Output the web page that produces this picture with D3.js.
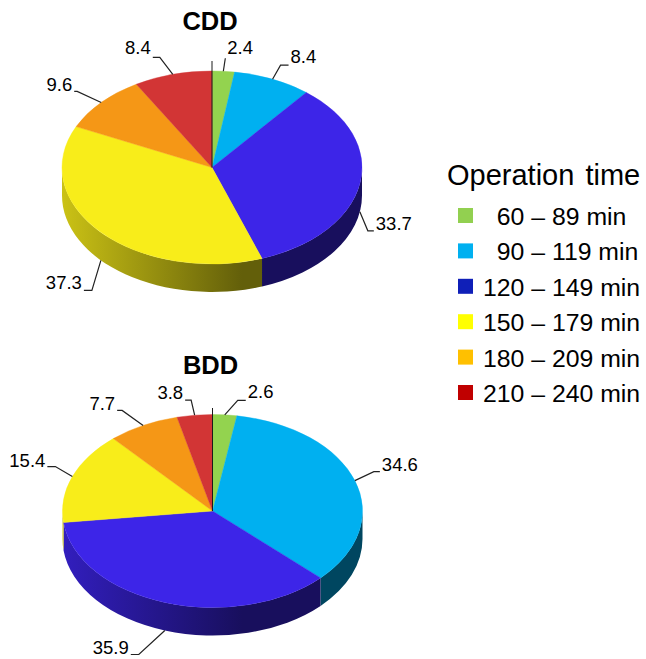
<!DOCTYPE html>
<html>
<head>
<meta charset="utf-8">
<script src="https://cdnjs.cloudflare.com/ajax/libs/d3/7.8.5/d3.min.js"></script>
<style>
  html, body { margin: 0; padding: 0; background: #fff; }
  svg { display: block; font-family: "Liberation Sans", Arial, sans-serif; fill: #000; }
  .legend-label { white-space: pre; }
</style>
</head>
<body>
<svg id="chart" width="646" height="659"></svg>
<script>
// Share of cases (%) per operation-time band, clockwise from twelve o'clock
const bands = ["60 – 89 min", "90 – 119 min", "120 – 149 min", "150 – 179 min", "180 – 209 min", "210 – 240 min"];
const cddValues = [2.4, 8.4, 33.7, 37.3, 9.6, 8.4];
const bddValues = [2.6, 34.6, 35.9, 15.4, 7.7, 3.8];

const sliceColors = ["#93d34f", "#00b0f0", "#3d25e8", "#f8ed1a", "#f59716", "#d23535"];
const legendColors = ["#92d050", "#00b0f0", "#0f1fb8", "#ffff00", "#ffc000", "#c00000"];
const legendPad = ["  ", "  ", "", "", "", ""];

// Leader lines: [elbow dx, elbow dy, horizontal run, text baseline shift] from the slice edge
const cddLeaders = [[2, -13, 0, -4], [8, -14, 8, -2], [8, 19, 6, -1], [-9, 30, -8, -1], [-24, -11, -3, 0], [-13, -17, -7, -3]];
const bddLeaders = [[13, -14.5, 8, -2], [19, -9, 6, -1], [-26, 24, -8, 0], [-17, -10, -8, 0], [-21, -15, -5, 0], [-3.5, -15, -6, -1]];

const rx = 150, ry = 96.5, depth = 28;
const svg = d3.select("#chart");
const defs = svg.append("defs");
const shade = (color, k) => d3.rgb(color.r * k, color.g * k, color.b * k).formatHex();

function drawPie(name, values, leaders, cx, cy, titleY, poleTop) {
  const pie = d3.pie().sort(null).value(d => d)(values);
  const arc = d3.arc().innerRadius(0).outerRadius(rx);
  const px = a => cx + rx * Math.sin(a);
  const py = a => cy - ry * Math.cos(a);
  const g = svg.append("g");

  // Rim of the disc: only the part facing the viewer, light on the left and dark to the right
  pie.forEach((d, i) => {
    const a0 = Math.max(d.startAngle, Math.PI / 2);
    const a1 = Math.min(d.endAngle, 3 * Math.PI / 2);
    if (a1 <= a0) return;
    const id = `rim-${name}-${i}`;
    const base = d3.rgb(sliceColors[i]);
    const grad = defs.append("linearGradient").attr("id", id)
      .attr("gradientUnits", "userSpaceOnUse")
      .attr("x1", cx - rx).attr("x2", cx + 30).attr("y1", 0).attr("y2", 0);
    grad.append("stop").attr("offset", 0).attr("stop-color", shade(base, 0.82));
    grad.append("stop").attr("offset", 1).attr("stop-color", shade(base, 0.4));
    const large = a1 - a0 > Math.PI ? 1 : 0;
    g.append("path")
      .attr("fill", `url(#${id})`)
      .attr("d", `M${px(a0)},${py(a0)}A${rx},${ry} 0 ${large} 1 ${px(a1)},${py(a1)}` +
                 `L${px(a1)},${py(a1) + depth}A${rx},${ry} 0 ${large} 0 ${px(a0)},${py(a0) + depth}Z`);
  });

  // Top face: a circular pie squashed into an ellipse
  const top = g.append("g").attr("transform", `translate(${cx},${cy}) scale(1,${ry / rx})`);
  top.selectAll("path").data(pie).join("path")
    .attr("d", arc)
    .attr("fill", (d, i) => sliceColors[i])
    .attr("stroke", (d, i) => sliceColors[i])
    .attr("stroke-width", 0.5);

  // Vertical pole from the centre through the twelve o'clock seam
  g.append("line").attr("x1", cx).attr("x2", cx).attr("y1", poleTop).attr("y2", cy)
    .attr("stroke", "#1a1a1a").attr("stroke-width", 1);

  // Leader lines and value labels
  pie.forEach((d, i) => {
    const mid = (d.startAngle + d.endAngle) / 2;
    const lower = Math.cos(mid) < 0;
    const ax = px(mid), ay = py(mid) + (lower ? depth : 0);
    const [ex, ey, run, shift] = leaders[i];
    const bx = ax + ex, by = ay + ey, tx = bx + run;
    g.append("path")
      .attr("d", d3.line()([[ax, ay], [bx, by], [tx, by]]))
      .attr("fill", "none").attr("stroke", "#222").attr("stroke-width", 1.2);
    const right = ex > 0;
    g.append("text")
      .attr("x", tx + (right ? 2 : -2)).attr("y", by + shift)
      .attr("text-anchor", right ? "start" : "end")
      .attr("font-size", 18.5)
      .text(values[i].toFixed(1));
  });

  g.append("text").attr("x", cx - 2).attr("y", titleY)
    .attr("text-anchor", "middle").attr("font-size", 25.5).attr("font-weight", "bold")
    .text(name);
}

drawPie("CDD", cddValues, cddLeaders, 212, 167.5, 30, 61);
drawPie("BDD", bddValues, bddLeaders, 212.5, 511, 374, 408);

// Legend
const legend = svg.append("g");
legend.append("text").attr("x", 447).attr("y", 185)
  .attr("font-size", 29).attr("word-spacing", 3).text("Operation time");
const rowY = d3.scaleLinear().domain([0, 5]).range([225, 402]);
bands.forEach((label, i) => {
  legend.append("rect")
    .attr("x", 458).attr("y", rowY(i) - 17).attr("width", 15).attr("height", 15)
    .attr("fill", legendColors[i]);
  legend.append("text").attr("class", "legend-label")
    .attr("x", 483).attr("y", rowY(i)).attr("font-size", 24.8)
    .text(legendPad[i] + label);
});
</script>
</body>
</html>
